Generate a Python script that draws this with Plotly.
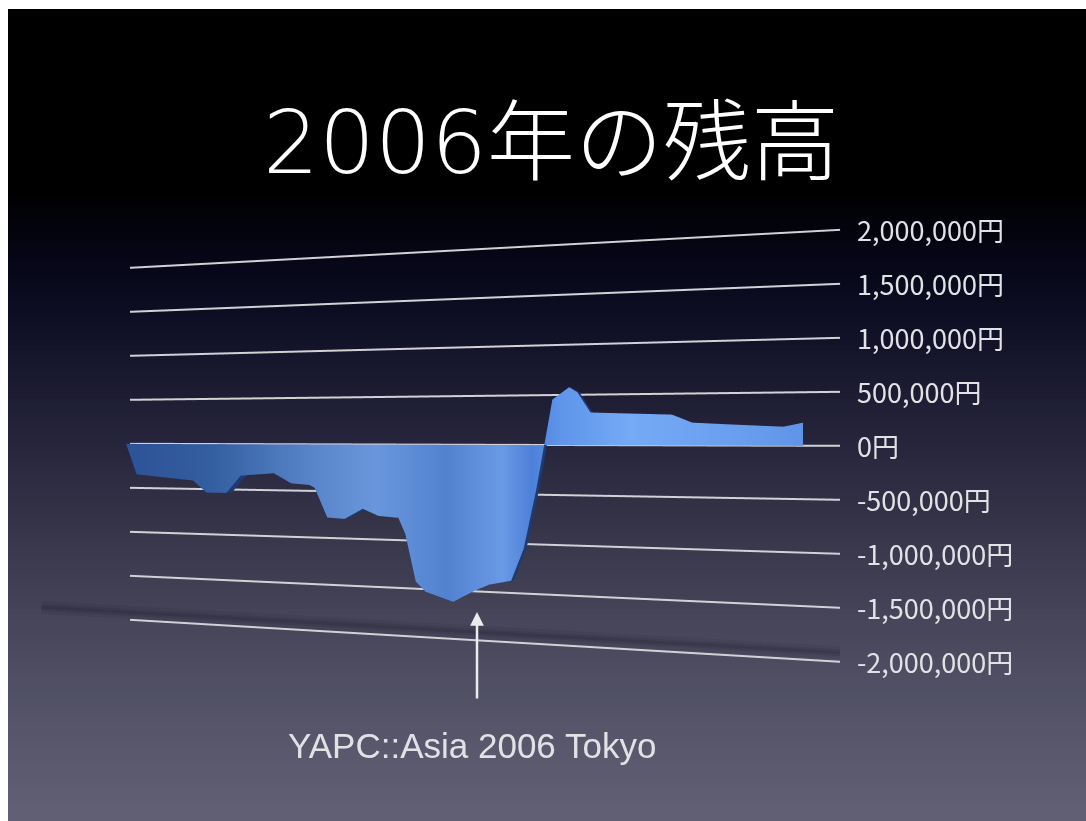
import plotly.graph_objects as go

# ---------------- data ----------------
# position along the year (0 = start of the axis, 100 = end of the axis)
pos = [0.6, 2.4, 11.8, 14.0, 17.2, 19.5, 24.7, 27.4, 30.2, 31.0, 32.9, 35.5, 38.2,
       40.5, 43.4, 44.4, 45.9, 47.3, 51.2, 54.0, 56.2, 59.2, 60.9, 62.6,
       64.7, 66.9, 68.0, 69.7, 80.0, 82.5, 87.0, 93.4, 95.7]
# account balance (yen)
balance = [0, -340000, -400000, -530000, -530000, -340000, -310000, -415000,
           -430000, -460000, -770000, -780000, -670000, -740000, -755000,
           -920000, -1405000, -1505000, -1595000, -1480000, -1405000,
           -1356000, -1030000, -430000, 450000, 570000, 520000, 320000,
           295000, 218000, 200000, 177000, 214000]

tick_values = [2000000, 1500000, 1000000, 500000, 0,
               -500000, -1000000, -1500000, -2000000]
tick_labels = ["2,000,000円", "1,500,000円", "1,000,000円", "500,000円", "0円",
               "-500,000円", "-1,000,000円", "-1,500,000円", "-2,000,000円"]

axis_start, axis_end = 0, 100
title_year = "2006"
title_rest = "年の残高"
event_text = "YAPC::Asia 2006 Tokyo"

# ---------------- ribbon mesh (3D area chart) ----------------
Y_FRONT = -0.32  # front face of the ribbon (towards the viewer)
Y_BACK = -0.03   # back of the ribbon (just in front of the grid wall)

fx, fy, fz, fint = [], [], [], []
FI, FJ, FK = [], [], []


def add_front(x, z):
    fx.append(x)
    fy.append(Y_FRONT)
    fz.append(z)
    fint.append(x)
    return len(fx) - 1


for a in range(len(pos) - 1):
    x0, x1 = pos[a], pos[a + 1]
    z0, z1 = balance[a], balance[a + 1]
    b0 = add_front(x0, 0)
    t0 = add_front(x0, z0)
    b1 = add_front(x1, 0)
    t1 = add_front(x1, z1)
    if z0 * z1 < 0:
        xc = x0 + (x1 - x0) * z0 / (z0 - z1)
        c = add_front(xc, 0)
        FI += [b0, c]
        FJ += [t0, t1]
        FK += [c, b1]
    else:
        FI += [b0, b0]
        FJ += [t0, t1]
        FK += [t1, b1]

# side (thickness) faces along the outline and at the right end
sx, sy, sz = [], [], []
SI, SJ, SK = [], [], []


def side_quad(xa, za, xb, zb):
    n = len(sx)
    sx.extend([xa, xb, xb, xa])
    sy.extend([Y_BACK, Y_BACK, Y_FRONT, Y_FRONT])
    sz.extend([za, zb, zb, za])
    SI.extend([n, n])
    SJ.extend([n + 1, n + 2])
    SK.extend([n + 2, n + 3])


for a in range(len(pos) - 1):
    side_quad(pos[a], balance[a], pos[a + 1], balance[a + 1])
side_quad(pos[-1], 0, pos[-1], balance[-1])

ribbon_scale = [
    [0.00, "#2d5297"], [0.15, "#335e9f"], [0.30, "#5783c9"],
    [0.40, "#6a97dc"], [0.50, "#5282cf"], [0.58, "#6a9ae6"],
    [0.62, "#4d80d8"], [0.66, "#5f95ea"], [0.75, "#74aaf5"],
    [0.88, "#6a9fef"], [1.00, "#5b8ee2"],
]
flat = dict(ambient=1.0, diffuse=0.0, specular=0.0, roughness=1.0, fresnel=0.0)

fig = go.Figure()

# soft shadow on the floor
for w, op in [(26, 0.08), (14, 0.10), (6, 0.12)]:
    fig.add_trace(go.Scatter3d(
        x=[-16, axis_end], y=[0.05, 0.05], z=[-1920000, -1920000],
        mode="lines", line=dict(color="#101018", width=w), opacity=op,
        hoverinfo="skip", showlegend=False))

# grid lines
gx, gy, gz = [], [], []
for v in tick_values:
    gx += [axis_start, axis_end, None]
    gy += [0, 0, None]
    gz += [v, v, None]
fig.add_trace(go.Scatter3d(
    x=gx, y=gy, z=gz, mode="lines",
    line=dict(color="#d2d2d6", width=4),
    hoverinfo="skip", showlegend=False))

fig.add_trace(go.Mesh3d(
    x=sx, y=sy, z=sz, i=SI, j=SJ, k=SK,
    color="#1f3a70", lighting=flat, hoverinfo="skip"))

fig.add_trace(go.Mesh3d(
    x=fx, y=fy, z=fz, i=FI, j=FJ, k=FK,
    intensity=fint, cmin=axis_start, cmax=axis_end,
    colorscale=ribbon_scale, showscale=False,
    lighting=flat, hoverinfo="skip"))

# ---------------- background gradient ----------------
stops = [(9, (0, 0, 0)), (190, (0, 0, 0)), (260, (6, 6, 24)), (330, (16, 16, 38)),
         (420, (34, 33, 56)), (520, (52, 51, 72)), (620, (70, 69, 90)),
         (720, (85, 84, 104)), (821, (97, 96, 116))]


def col_at(y):
    for (ya, ca), (yb, cb) in zip(stops[:-1], stops[1:]):
        if ya <= y <= yb:
            t = (y - ya) / (yb - ya)
            return "rgb(%d,%d,%d)" % tuple(round(ca[i] + (cb[i] - ca[i]) * t) for i in range(3))
    return "rgb(%d,%d,%d)" % stops[-1][1]


W, H = 1086, 821
shapes = []
band = 6
y = 9
while y < H:
    y2 = min(y + band, H)
    shapes.append(dict(type="rect", xref="paper", yref="paper",
                       x0=8 / W, x1=1, y0=1 - (y2 + 1) / H, y1=1 - y / H,
                       fillcolor=col_at((y + y2) / 2), line=dict(width=0),
                       layer="below"))
    y = y2

# ---------------- labels ----------------
scene_ann = [dict(x=axis_end, y=0, z=v, text=lab, showarrow=False,
                  xanchor="left", yanchor="middle", xshift=15,
                  font=dict(family="Noto Sans CJK JP", size=27, color="#e2e2e6"))
             for v, lab in zip(tick_values, tick_labels)]

title_html = ('<span style="font-family:DejaVu Sans;font-weight:200">%s</span>%s'
              % (title_year, title_rest))

annotations = [
    dict(text=title_html, x=551 / W, y=1 - 134 / H, xref="paper", yref="paper",
         showarrow=False, xanchor="center", yanchor="middle",
         font=dict(family="Noto Sans CJK JP", size=88, color="#ffffff", weight=300)),
    dict(text="", x=477 / W, y=1 - 612 / H, xref="paper", yref="paper",
         showarrow=True, ax=0, ay=88, arrowcolor="#ececec", arrowwidth=2.5,
         arrowhead=2, arrowsize=1.1),
    dict(text=event_text, x=472 / W, y=1 - 745 / H, xref="paper", yref="paper",
         showarrow=False, xanchor="center", yanchor="middle",
         font=dict(family="Liberation Sans", size=35, color="#e2e2e6")),
]

ax_hidden = dict(visible=False, showgrid=False, zeroline=False, showbackground=False,
                 showspikes=False)

fig.update_layout(
    width=W, height=H, autosize=False,
    margin=dict(l=0, r=0, t=0, b=0, pad=0),
    paper_bgcolor="#ffffff", plot_bgcolor="rgba(0,0,0,0)",
    shapes=shapes, annotations=annotations, showlegend=False,
    scene=dict(
        domain=dict(x=[0, 1], y=[0, 772 / H]),
        bgcolor="rgba(0,0,0,0)",
        xaxis=dict(range=[-25, 125], **ax_hidden),
        yaxis=dict(range=[-1, 1], **ax_hidden),
        zaxis=dict(range=[-2500000, 2500000], **ax_hidden),
        aspectmode="manual",
        aspectratio=dict(x=3, y=0.2, z=1.299),
        camera=dict(eye=dict(x=0.880, y=-2.350, z=0.026),
                    center=dict(x=0.261, y=0, z=0.026),
                    up=dict(x=0, y=0, z=1),
                    projection=dict(type="perspective")),
        annotations=scene_ann,
    ),
)

fig.write_html("out.html", config={"displayModeBar": False})
